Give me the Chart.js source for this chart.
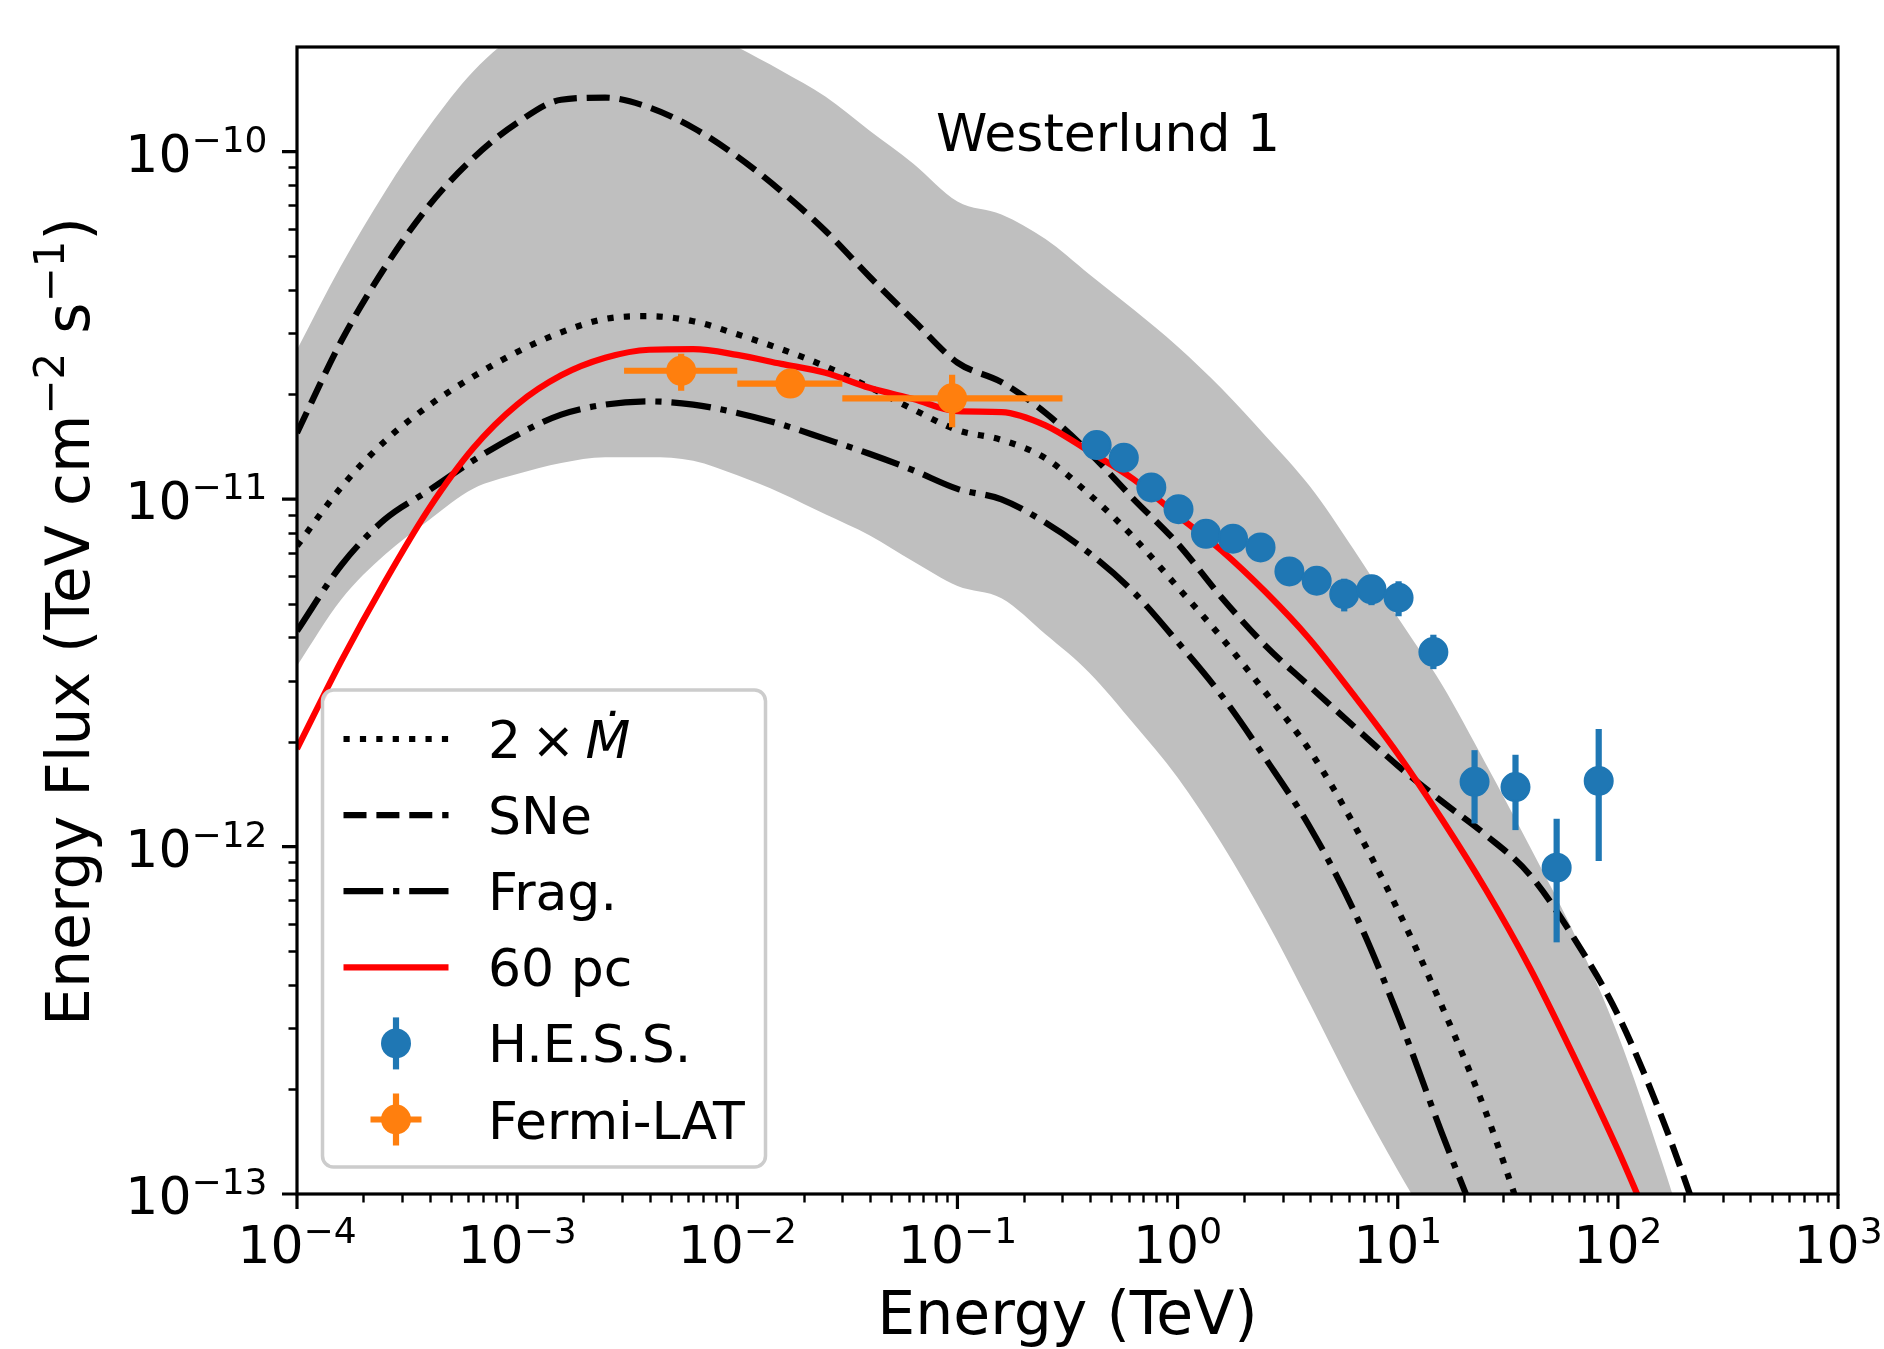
<!DOCTYPE html>
<html>
<head>
<meta charset="utf-8">
<title>Westerlund 1</title>
<script src="https://cdn.jsdelivr.net/npm/chart.js@4.4.1/dist/chart.umd.min.js"></script>
<style>
  html, body { margin: 0; padding: 0; background: #ffffff; }
  canvas { display: block; }
</style>
</head>
<body>
<canvas id="myChart" width="1884" height="1349"></canvas>
<script>
'use strict'
// energy grid (TeV) for the model curves
var energy = [1e-4, 1.585e-4, 2.512e-4, 3.981e-4, 6.31e-4,
    1e-3, 1.585e-3, 2.512e-3, 3.981e-3, 6.31e-3,
    1e-2, 1.585e-2, 2.512e-2, 3.981e-2, 6.31e-2,
    1e-1, 1.585e-1, 2.512e-1, 3.981e-1, 6.31e-1,
    1, 1.585, 2.512, 3.981, 6.31,
    10, 15.85, 25.12, 39.81, 63.1,
    100, 158.5, 251.2];

// model energy fluxes (TeV cm^-2 s^-1)
var fluxMdot = [7.33e-12, 1.08e-11, 1.47e-11, 1.86e-11, 2.25e-11, 2.65e-11, 3.02e-11, 3.30e-11, 3.36e-11, 3.25e-11,
    2.98e-11, 2.70e-11, 2.41e-11, 2.10e-11, 1.81e-11, 1.58e-11, 1.48e-11, 1.31e-11, 1.03e-11, 7.76e-12,
    5.58e-12, 3.99e-12, 2.77e-12, 1.89e-12, 1.16e-12, 6.58e-13, 3.48e-13, 1.72e-13, 7.4e-14, null,
    null, null, null];
var fluxSNe = [1.55e-11, 2.84e-11, 4.65e-11, 7.00e-11, 9.57e-11, 1.21e-10, 1.41e-10, 1.43e-10, 1.34e-10, 1.17e-10,
    9.68e-11, 7.69e-11, 5.92e-11, 4.37e-11, 3.27e-11, 2.47e-11, 2.17e-11, 1.77e-11, 1.36e-11, 1.00e-11,
    7.45e-12, 5.21e-12, 3.78e-12, 2.89e-12, 2.22e-12, 1.71e-12, 1.35e-12, 1.08e-12, 8.30e-13, 5.46e-13,
    3.28e-13, 1.66e-13, 7.4e-14];
var fluxFrag = [4.17e-12, 6.44e-12, 8.75e-12, 1.06e-11, 1.29e-11, 1.53e-11, 1.75e-11, 1.87e-11, 1.91e-11, 1.87e-11,
    1.77e-11, 1.64e-11, 1.49e-11, 1.35e-11, 1.21e-11, 1.07e-11, 9.98e-12, 8.55e-12, 6.98e-12, 5.40e-12,
    3.88e-12, 2.72e-12, 1.79e-12, 1.14e-12, 6.55e-13, 3.28e-13, 1.50e-13, 7.2e-14, null, null,
    null, null, null];
var flux60pc = [1.91e-12, 3.41e-12, 5.79e-12, 9.40e-12, 1.40e-11, 1.87e-11, 2.27e-11, 2.55e-11, 2.69e-11, 2.70e-11,
    2.60e-11, 2.45e-11, 2.31e-11, 2.09e-11, 1.94e-11, 1.79e-11, 1.78e-11, 1.63e-11, 1.37e-11, 1.14e-11,
    8.97e-12, 7.11e-12, 5.40e-12, 3.95e-12, 2.73e-12, 1.85e-12, 1.20e-12, 7.52e-13, 4.48e-13, 2.49e-13,
    1.34e-13, 6.8e-14, null];
// grey uncertainty band
var bandHigh = [2.69e-11, 4.69e-11, 7.67e-11, 1.18e-10, 1.70e-10, 2.19e-10, 2.57e-10, 2.75e-10, 2.63e-10, 2.34e-10,
    2.00e-10, 1.71e-10, 1.44e-10, 1.15e-10, 9.23e-11, 7.18e-11, 6.59e-11, 5.60e-11, 4.43e-11, 3.51e-11,
    2.75e-11, 2.08e-11, 1.52e-11, 1.09e-11, 7.16e-12, 4.57e-12, 2.93e-12, 1.73e-12, 1.00e-12, 5.64e-13,
    2.88e-13, 1.24e-13, 4.9e-14];
var bandLow = [3.31e-12, 5.13e-12, 6.92e-12, 8.71e-12, 1.07e-11, 1.18e-11, 1.27e-11, 1.32e-11, 1.32e-11, 1.29e-11,
    1.17e-11, 1.04e-11, 9.04e-12, 7.87e-12, 6.61e-12, 5.62e-12, 5.18e-12, 4.08e-12, 3.16e-12, 2.26e-12,
    1.58e-12, 1.02e-12, 6.18e-13, 3.54e-13, 1.99e-13, 1.17e-13, 7.1e-14, 4e-14, 2e-14, 1e-14,
    1e-14, 1e-14, 1e-14];

// H.E.S.S. points
var hessEnergy = [0.429, 0.570, 0.760, 1.01, 1.346, 1.786, 2.382, 3.221, 4.285, 5.715, 7.603, 10.09, 14.52, 22.34, 34.28, 52.72, 81.85];
var hessFlux = [1.43e-11, 1.315e-11, 1.08e-11, 9.35e-12, 7.94e-12, 7.69e-12, 7.26e-12, 6.19e-12, 5.82e-12, 5.33e-12, 5.50e-12, 5.20e-12, 3.63e-12, 1.535e-12, 1.483e-12, 8.69e-13, 1.545e-12];
var hessLow = [1.36e-11, 1.25e-11, 1.02e-11, 8.8e-12, 7.4e-12, 7.2e-12, 6.8e-12, 5.7e-12, 5.3e-12, 4.75e-12, 4.95e-12, 4.6e-12, 3.24e-12, 1.165e-12, 1.115e-12, 5.30e-13, 9.08e-13];
var hessHigh = [1.50e-11, 1.38e-11, 1.14e-11, 9.9e-12, 8.5e-12, 8.2e-12, 7.8e-12, 6.7e-12, 6.3e-12, 5.9e-12, 6.05e-12, 5.8e-12, 4.07e-12, 1.894e-12, 1.837e-12, 1.202e-12, 2.178e-12];

// Fermi-LAT points
var fermiEnergy = [5.56e-3, 1.742e-2, 9.46e-2];
var fermiEnergyLow = [3.06e-3, 1.0e-2, 3.0e-2];
var fermiEnergyHigh = [1.0e-2, 3.0e-2, 0.30];
var fermiFlux = [2.34e-11, 2.15e-11, 1.95e-11];
var fermiLow = [2.05e-11, 2.0e-11, 1.61e-11];
var fermiHigh = [2.62e-11, 2.3e-11, 2.28e-11];

// tick labels (powers of ten) and text
var xTickExps = [-4, -3, -2, -1, 0, 1, 2, 3];
var yTickExps = [-13, -12, -11, -10];
var legendLabels = ['2\u2009×\u2009Ṁ', 'SNe', 'Frag.', '60 pc', 'H.E.S.S.', 'Fermi-LAT'];
var plotLabel = 'Westerlund 1';
var xTitle = 'Energy (TeV)';
// y title pieces: [text, is superscript]
var yTitleParts = [['Energy Flux (TeV cm', false], ['\u22122', true], [' s', false], ['\u22121', true], [')', false]];

var fontFamily = '"DejaVu Sans", "Liberation Sans", sans-serif';
var lineW = 6.2;
var dashes = {
    dotted: [6.2, 10.2],
    dashed: [23, 9.9],
    dashdot: [39.7, 9.9, 6.2, 9.9]
};

function toPoints(xs, ys) {
    var pts = [];
    for (var i = 0; i < xs.length; i++) {
        pts.push({ x: xs[i], y: ys[i] });
    }
    return pts;
}

function curve(label, values, color, dash, order) {
    return {
        label: label,
        data: toPoints(energy, values),
        borderColor: color,
        borderWidth: lineW,
        borderDash: dash,
        borderJoinStyle: 'round',
        cubicInterpolationMode: 'monotone',
        pointRadius: 0,
        fill: false,
        clip: 0,
        order: order
    };
}

var datasets = [
    {
        label: 'Fermi-LAT',
        data: toPoints(fermiEnergy, fermiFlux),
        showLine: false,
        pointRadius: 14,
        pointBorderWidth: 2,
        pointBackgroundColor: '#ff7f0e',
        pointBorderColor: '#ff7f0e',
        barLow: fermiLow, barHigh: fermiHigh,
        barLeft: fermiEnergyLow, barRight: fermiEnergyHigh,
        order: 1
    },
    {
        label: 'H.E.S.S.',
        data: toPoints(hessEnergy, hessFlux),
        showLine: false,
        pointRadius: 14,
        pointBorderWidth: 2,
        pointBackgroundColor: '#1f77b4',
        pointBorderColor: '#1f77b4',
        barLow: hessLow, barHigh: hessHigh,
        order: 2
    },
    curve('60 pc', flux60pc, '#ff0000', [], 3),
    curve('Frag.', fluxFrag, '#000000', dashes.dashdot, 4),
    curve('SNe', fluxSNe, '#000000', dashes.dashed, 5),
    curve(legendLabels[0], fluxMdot, '#000000', dashes.dotted, 6),
    {
        label: 'band',
        data: toPoints(energy, bandHigh),
        borderWidth: 0,
        pointRadius: 0,
        cubicInterpolationMode: 'monotone',
        fill: '+1',
        backgroundColor: '#bfbfbf',
        order: 7
    },
    {
        label: 'band low',
        data: toPoints(energy, bandLow),
        borderWidth: 0,
        pointRadius: 0,
        cubicInterpolationMode: 'monotone',
        fill: false,
        order: 8
    }
];

// error bars are drawn just before their markers
var errorBarPlugin = {
    id: 'errorBars',
    beforeDatasetDraw: function (chart, args) {
        var ds = chart.data.datasets[args.index];
        if (!ds.barLow) return;
        var ctx = chart.ctx;
        var xs = chart.scales.x;
        var ys = chart.scales.y;
        ctx.save();
        ctx.strokeStyle = ds.pointBackgroundColor;
        ctx.lineWidth = lineW;
        ctx.lineCap = 'butt';
        for (var i = 0; i < ds.data.length; i++) {
            var px = xs.getPixelForValue(ds.data[i].x);
            var py = ys.getPixelForValue(ds.data[i].y);
            ctx.beginPath();
            ctx.moveTo(px, ys.getPixelForValue(ds.barLow[i]));
            ctx.lineTo(px, ys.getPixelForValue(ds.barHigh[i]));
            if (ds.barLeft) {
                ctx.moveTo(xs.getPixelForValue(ds.barLeft[i]), py);
                ctx.lineTo(xs.getPixelForValue(ds.barRight[i]), py);
            }
            ctx.stroke();
        }
        ctx.restore();
    }
};

function drawPower(ctx, exp, x, y, align) {
    var base = '10';
    var sup = (exp < 0 ? '\u2212' : '') + Math.abs(exp);
    ctx.font = '52px ' + fontFamily;
    var wBase = ctx.measureText(base).width;
    ctx.font = '36px ' + fontFamily;
    var wSup = ctx.measureText(sup).width;
    var start = align === 'center' ? x - (wBase + wSup) / 2 : x - wBase - wSup;
    ctx.textAlign = 'left';
    ctx.textBaseline = 'alphabetic';
    ctx.font = '52px ' + fontFamily;
    ctx.fillText(base, start, y);
    ctx.font = '36px ' + fontFamily;
    ctx.fillText(sup, start + wBase, y - 20);
}

// rotated y title with real superscripts
function drawYTitle(ctx, baseX, centerY) {
    var big = '60px ' + fontFamily;
    var small = '42px ' + fontFamily;
    var total = 0;
    yTitleParts.forEach(function (p) {
        ctx.font = p[1] ? small : big;
        total += ctx.measureText(p[0]).width;
    });
    ctx.save();
    ctx.translate(baseX, centerY);
    ctx.rotate(-Math.PI / 2);
    ctx.textAlign = 'left';
    ctx.textBaseline = 'alphabetic';
    ctx.fillStyle = '#000000';
    var x = -total / 2;
    yTitleParts.forEach(function (p) {
        ctx.font = p[1] ? small : big;
        ctx.fillText(p[0], x, p[1] ? -25 : 0);
        x += ctx.measureText(p[0]).width;
    });
    ctx.restore();
}

function findDataset(chart, label) {
    var list = chart.data.datasets;
    for (var i = 0; i < list.length; i++) {
        if (list[i].label === label) return list[i];
    }
    return null;
}

function drawLegend(chart) {
    var ctx = chart.ctx;
    ctx.save();
    ctx.beginPath();
    ctx.roundRect(322.5, 690, 443, 477, 11);
    ctx.fillStyle = 'rgba(255,255,255,0.8)';
    ctx.fill();
    ctx.lineWidth = 3.5;
    ctx.strokeStyle = '#cccccc';
    ctx.stroke();

    for (var i = 0; i < legendLabels.length; i++) {
        var rowY = 739 + i * 76.1;
        var ds = findDataset(chart, legendLabels[i]);
        if (ds.showLine === false) {
            var c = ds.pointBackgroundColor;
            ctx.strokeStyle = c;
            ctx.lineWidth = lineW;
            ctx.setLineDash([]);
            ctx.beginPath();
            ctx.moveTo(396, rowY - 26);
            ctx.lineTo(396, rowY + 26);
            if (ds.barLeft) {
                ctx.moveTo(370.5, rowY);
                ctx.lineTo(421.5, rowY);
            }
            ctx.stroke();
            ctx.fillStyle = c;
            ctx.beginPath();
            ctx.arc(396, rowY, 15, 0, Math.PI * 2);
            ctx.fill();
        } else {
            ctx.strokeStyle = ds.borderColor;
            ctx.lineWidth = lineW;
            ctx.lineCap = 'butt';
            ctx.setLineDash(ds.borderDash);
            ctx.beginPath();
            ctx.moveTo(343.5, rowY);
            ctx.lineTo(448.5, rowY);
            ctx.stroke();
            ctx.setLineDash([]);
        }
        ctx.fillStyle = '#000000';
        ctx.textAlign = 'left';
        ctx.textBaseline = 'alphabetic';
        var text = legendLabels[i];
        var k = text.indexOf('Ṁ');
        ctx.font = '52px ' + fontFamily;
        if (k >= 0) {
            var head = text.slice(0, k);
            ctx.fillText(head, 488, rowY + 19);
            var w = ctx.measureText(head).width;
            ctx.font = 'italic 52px ' + fontFamily;
            ctx.fillText(text.slice(k), 488 + w, rowY + 19);
        } else {
            ctx.fillText(text, 488, rowY + 19);
        }
    }
    ctx.restore();
}

// frame, log ticks, tick labels, annotation and legend
var axisPlugin = {
    id: 'axisDecor',
    afterDraw: function (chart) {
        var ctx = chart.ctx;
        var a = chart.chartArea;
        var xs = chart.scales.x;
        var ys = chart.scales.y;
        var n, k, v, p;
        ctx.save();
        ctx.strokeStyle = '#000000';
        ctx.fillStyle = '#000000';

        // minor ticks
        ctx.lineWidth = 2.4;
        ctx.beginPath();
        for (n = xTickExps[0]; n < xTickExps[xTickExps.length - 1]; n++) {
            for (k = 2; k <= 9; k++) {
                p = Math.round(xs.getPixelForValue(k * Math.pow(10, n))) + 0.5;
                ctx.moveTo(p, a.bottom);
                ctx.lineTo(p, a.bottom + 8.5);
            }
        }
        for (n = yTickExps[0]; n <= yTickExps[yTickExps.length - 1]; n++) {
            for (k = 2; k <= 9; k++) {
                v = k * Math.pow(10, n);
                if (v >= ys.max * 0.999) continue;
                p = Math.round(ys.getPixelForValue(v)) + 0.5;
                ctx.moveTo(a.left, p);
                ctx.lineTo(a.left - 8.5, p);
            }
        }
        ctx.stroke();

        // major ticks and labels
        ctx.lineWidth = 3.2;
        ctx.beginPath();
        xTickExps.forEach(function (e) {
            var px = xs.getPixelForValue(Math.pow(10, e));
            ctx.moveTo(px, a.bottom);
            ctx.lineTo(px, a.bottom + 15);
        });
        yTickExps.forEach(function (e) {
            var py = ys.getPixelForValue(Math.pow(10, e));
            ctx.moveTo(a.left, py);
            ctx.lineTo(a.left - 15, py);
        });
        ctx.stroke();
        xTickExps.forEach(function (e) {
            drawPower(ctx, e, xs.getPixelForValue(Math.pow(10, e)), a.bottom + 68.5, 'center');
        });
        yTickExps.forEach(function (e) {
            drawPower(ctx, e, a.left - 29.5, ys.getPixelForValue(Math.pow(10, e)) + 20, 'right');
        });

        // frame
        ctx.lineWidth = 3.2;
        ctx.strokeRect(a.left, a.top, a.right - a.left, a.bottom - a.top);

        ctx.font = '52px ' + fontFamily;
        ctx.textAlign = 'left';
        ctx.textBaseline = 'alphabetic';
        ctx.fillText(plotLabel, 936, 151);
        ctx.restore();

        drawYTitle(ctx, 89, (a.top + a.bottom) / 2 + 1);
        drawLegend(chart);
    }
};

var ctx = document.getElementById('myChart').getContext('2d');
var chart = new Chart(ctx, {
    type: 'line',
    data: { datasets: datasets },
    options: {
        responsive: false,
        animation: false,
        devicePixelRatio: 1,
        events: [],
        layout: { padding: { left: 0, right: 46, top: 47, bottom: 0 } },
        plugins: {
            legend: { display: false },
            tooltip: { enabled: false }
        },
        scales: {
            x: {
                type: 'logarithmic',
                min: 1e-4,
                max: 1e3,
                grid: { display: false },
                border: { display: false },
                ticks: { display: false },
                title: {
                    display: true,
                    text: xTitle,
                    color: '#000000',
                    font: { family: fontFamily, size: 60, lineHeight: 1 },
                    padding: { top: 0, bottom: 1 }
                },
                afterFit: function (scale) { scale.height = 155; }
            },
            y: {
                type: 'logarithmic',
                min: 1e-13,
                max: 2e-10,
                grid: { display: false },
                border: { display: false },
                ticks: { display: false },
                title: { display: false },
                afterFit: function (scale) { scale.width = 297; }
            }
        }
    },
    plugins: [errorBarPlugin, axisPlugin]
});
</script>
</body>
</html>
